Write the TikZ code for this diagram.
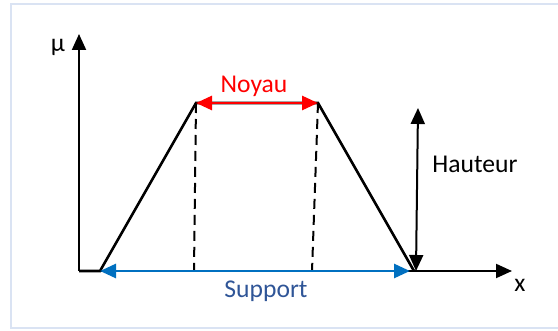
\documentclass[tikz,border=0pt]{standalone}
\usepackage{fontspec}
\setmainfont{Carlito}
\usetikzlibrary{arrows.meta}
\definecolor{framebl}{HTML}{DAE3F3}
\definecolor{suppblue}{HTML}{0070C0}
\definecolor{supptext}{HTML}{2F5597}
\definecolor{noyred}{HTML}{FF0000}

\begin{document}
\begin{tikzpicture}[x=0.5pt, y=-0.5pt, font=\fontsize{12.8}{15}\selectfont,
  axis/.style={line width=1pt, -{Triangle[length=8pt, width=7pt]}},
  span/.style={line width=1.4pt, {Triangle[length=8pt, width=7pt]}-{Triangle[length=8pt, width=7pt]}},
  guide/.style={line width=1pt, dash pattern=on 5pt off 3pt}]
\useasboundingbox (0,0) rectangle (558,331);
\draw[framebl, line width=1pt] (11,4) rectangle (572,328);
% points of the trapezoid, in pixels of the 558x331 frame
\coordinate (O) at (79,271);
\coordinate (ytop) at (79,34);
\coordinate (xend) at (512,271);
\coordinate (A) at (100,271);
\coordinate (B) at (196,103);
\coordinate (C) at (318,103);
\coordinate (D) at (414,271);
\coordinate (Bfoot) at (194,271);
\coordinate (Cfoot) at (312,271);
\coordinate (htop) at (418,108);
\coordinate (hbot) at (416,271);
\coordinate (sright) at (410,271);
% axes
\draw[axis] (O) -- (ytop);
\draw[axis] (O) -- (xend);
\node[anchor=base] (mu) at (58,52) {μ};
\node[anchor=base] (xlab) at (520,292) {x};
% membership function
\draw[line width=1.3pt] (O) -- (A) -- (B) -- (C) -- (D);
\draw[guide] (B) -- (Bfoot);
\draw[guide] (C) -- (Cfoot);
% core, support, height
\draw[span, noyred] (B) -- (C);
\node[anchor=base, text=noyred] (noyau) at (254,93) {Noyau};
\draw[span, suppblue] (A) -- (sright);
\node[anchor=base, text=supptext] (support) at (266,298) {Support};
\draw[span, line width=1pt] (htop) -- (hbot);
\node[anchor=base] (hauteur) at (475,173) {Hauteur};
\end{tikzpicture}
\end{document}
